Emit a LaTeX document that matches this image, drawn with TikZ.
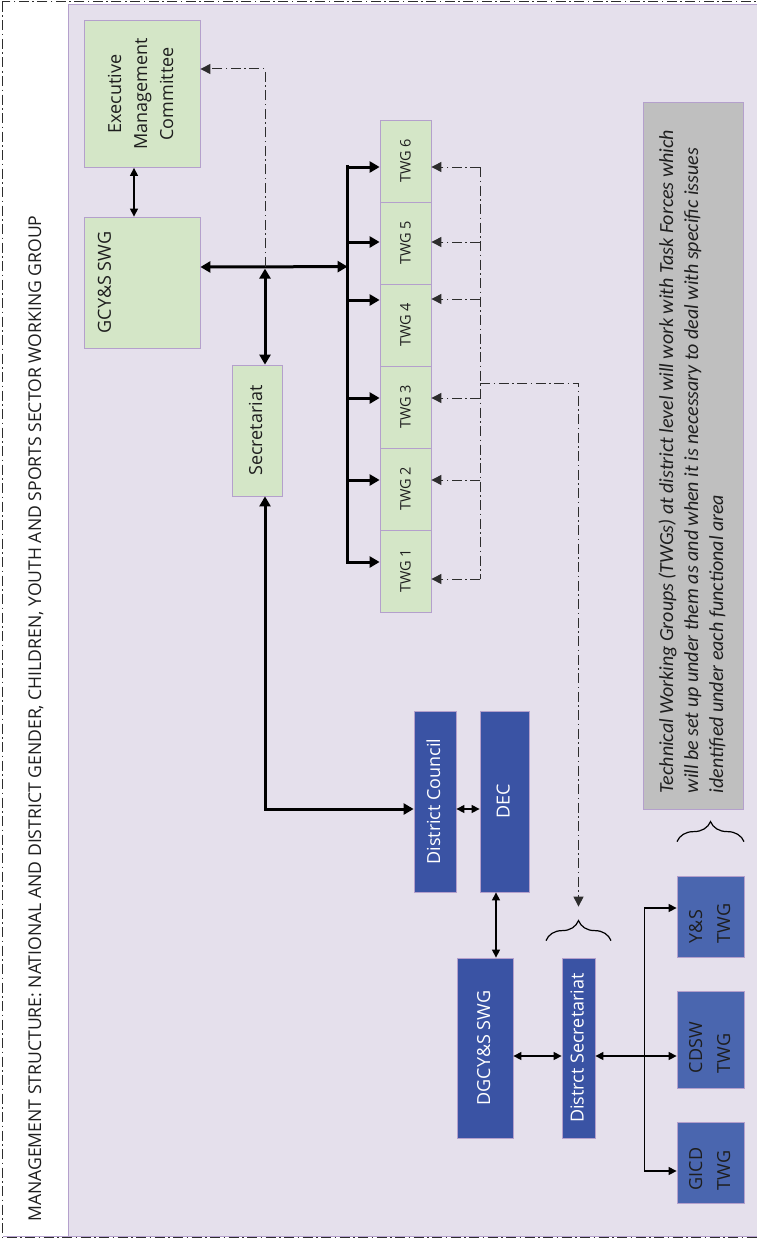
\documentclass[tikz,border=0pt]{standalone}
\usepackage{fontspec}
\setmainfont{Open Sans}
\newfontfamily\notefont{Carlito}
\usetikzlibrary{arrows.meta, positioning, calc, decorations.pathreplacing}
\definecolor{lavender}{RGB}{229,224,236}
\definecolor{leaf}{RGB}{212,230,199}
\definecolor{edge}{RGB}{180,160,204}
\definecolor{navy}{RGB}{58,83,164}
\definecolor{steel}{RGB}{74,102,175}
\definecolor{notegray}{RGB}{191,191,191}
\definecolor{dashgray}{RGB}{45,45,45}
\definecolor{ink}{RGB}{30,30,30}
\newcommand{\vt}[1]{\rotatebox{90}{\begin{tabular}{@{}c@{}}#1\end{tabular}}}
\newcommand{\vl}[1]{\rotatebox{90}{\begin{tabular}{@{}l@{}}#1\end{tabular}}}
\tikzset{
  box/.style={draw=edge, line width=0.8pt, inner sep=0pt, text=ink, font=\fontsize{18}{26}\selectfont},
  greenbox/.style={box, fill=leaf},
  bluebox/.style={box, fill=navy, text=white},
  lowbox/.style={box, fill=steel},
  twgbox/.style={greenbox, minimum width=51, minimum height=82, font=\fontsize{14.5}{17}\selectfont},
  lbl/.style={inner sep=0pt, text=ink, font=\fontsize{18}{26}\selectfont},
  thickarr/.style={line width=3pt, -{Triangle[length=10pt,width=11pt]}},
  thickboth/.style={line width=3pt, {Triangle[length=10pt,width=11pt]}-{Triangle[length=10pt,width=11pt]}},
  thinarr/.style={line width=1.3pt, -{Triangle[length=8pt,width=8pt]}},
  thinboth/.style={line width=1.3pt, {Triangle[length=8pt,width=8pt]}-{Triangle[length=8pt,width=8pt]}},
  feedback/.style={draw=dashgray, line width=1pt, dash pattern=on 10pt off 3.5pt on 1.5pt off 3.5pt},
  fbarr/.style={feedback, -{Triangle[length=10pt,width=10pt]}},
  brace/.style={decorate, decoration={brace, amplitude=20pt}, line width=1.2pt}
}

\begin{document}
\begin{tikzpicture}[x=1pt, y=-1pt]
  \useasboundingbox (0,0) rectangle (756,1239);
  % frame and title strip
  \fill[white] (0,0) rectangle (756,1239);
  \draw[edge, fill=lavender, line width=0.8pt] (68,4) rectangle (760,1236);
  \draw[edge, line width=0.8pt] (3,1236) -- (68,1236);
  \draw[feedback] (2,2) rectangle (760,1237);
  \node[lbl, font=\fontsize{17.6}{20}\selectfont, anchor=south] (title) at (36,1222) {\rotatebox{90}{MANAGEMENT STRUCTURE: NATIONAL AND DISTRICT GENDER, CHILDREN, YOUTH AND SPORTS SECTOR WORKING GROUP}};

  % national level
  \node[greenbox, minimum width=116, minimum height=147] (emc) at (142,94) {\vt{Executive\\Management\\Committee}};
  \node[greenbox, minimum width=116, minimum height=131] (swg) at (142,282.5) {};
  \node[lbl, right=14pt of swg.west] (swglbl) {\rotatebox{90}{GCY\&S SWG}};
  \node[greenbox, minimum width=50, minimum height=131] (sec) at (257,430.5) {\vt{Secretariat}};
  \foreach \i in {1,...,6}
    \node[twgbox] (twg\i) at (405.5,{653-82*\i}) {\rotatebox{90}{TWG \i}};

  % district level
  \node[bluebox, minimum width=42, minimum height=181] (dc) at (435,801.5) {\vt{District Council}};
  \node[bluebox, minimum width=49, minimum height=181] (dec) at (504.5,801.5) {\vt{DEC}};
  \node[bluebox, minimum width=56, minimum height=180] (dg) at (485,1048) {\vt{DGCY\&S SWG}};
  \node[bluebox, minimum width=33, minimum height=180] (ds) at (578.5,1048) {\vt{Distrct Secretariat}};
  \node[lowbox, minimum width=67, minimum height=81] (ys) at (710.5,916.5) {};
  \node[lowbox, minimum width=67, minimum height=97] (cdsw) at (710.5,1039.5) {};
  \node[lowbox, minimum width=67, minimum height=81] (gicd) at (710.5,1162.5) {};
  \node[lbl, font=\fontsize{18}{28}\selectfont, above=14pt of ys.south] (yslbl) {\vl{Y\&S\\TWG}};
  \node[lbl, font=\fontsize{18}{28}\selectfont, above=15pt of cdsw.south] (cdswlbl) {\vl{CDSW\\TWG}};
  \node[lbl, font=\fontsize{18}{28}\selectfont, above=13pt of gicd.south] (gicdlbl) {\vl{GICD\\TWG}};

  % note
  \node[box, fill=notegray, minimum width=100, minimum height=707] (note) at (693,455.5) {};
  \node[lbl, font=\notefont\itshape\fontsize{20}{25}\selectfont, above=16pt of note.south] (notetxt)
    {\vl{Technical Working Groups (TWGs) at district level will work with Task Forces which\\will be set up under them as and when it is necessary to deal with specific issues\\identified under each functional area}};
  \draw[brace] ($(ds.north)+(-32.5,-17)$) -- ($(ds.north)+(32.5,-17)$);
  \draw[brace] ($(ys.north)+(-33.5,-34)$) -- ($(ys.north)+(33.5,-34)$);

  % national connectors
  \coordinate (hub) at ($(sec.north)+(8,-98)$);
  \coordinate (bustop) at ($(twg6.west)+(-32,6)$);
  \coordinate (busbot) at ($(twg1.west)+(-32,-9)$);
  \draw[line width=3.5pt, line cap=rect] (bustop) -- (busbot);
  \foreach \i/\d in {1/-9,2/-9,3/-9,4/-25,5/-1,6/6}
    \draw[thickarr] ($(twg\i.west)+(-32,\d)$) -- ($(twg\i.west)+(0,\d)$);
  \draw[thickboth] ($(swg.east)+(0,-15.5)$) -- (hub -| bustop);
  \draw[thickboth] ($(hub)+(0,2)$) -- (hub |- sec.north);
  \draw[thickboth] ($(sec.south)+(8,0)$) |- ($(dc.west)+(0,7.5)$);
  \draw[thinboth] ($(emc.south)+(-8,0)$) -- ($(swg.north)+(-8,0)$);
  \draw[fbarr] (hub) |- ($(emc.east)+(0,-25)$);

  % feedback from the TWGs
  \coordinate (fbtop) at ($(twg6.east)+(49,6)$);
  \coordinate (fbbot) at ($(twg1.east)+(49,8)$);
  \coordinate (fbmid) at ($(twg3.east)+(49,-24)$);
  \draw[feedback] (fbtop) -- (fbbot);
  \foreach \i/\d in {1/8,2/-9,3/-9,4/-26,5/-1,6/6}
    \draw[fbarr] ($(twg\i.east)+(49,\d)$) -- ($(twg\i.east)+(0,\d)$);
  \draw[fbarr] (fbmid) -| ($(ds.north)+(0,-51)$);

  % district connectors
  \coordinate (decdown) at ($(dec.south)+(-8.5,0)$);
  \coordinate (fork) at ($(ds.east)+(49,8)$);
  \draw[thinboth] ($(dc.east)+(0,7.5)$) -- ($(dec.west)+(0,7.5)$);
  \draw[thinboth] (decdown) -- (decdown |- dg.north);
  \draw[thinboth] ($(dg.east)+(0,8)$) -- ($(ds.west)+(0,8)$);
  \draw[thinboth] ($(ds.east)+(0,8)$) -- ($(cdsw.west)+(0,16.5)$);
  \draw[thinarr] (fork) |- ($(ys.west)+(0,-8.5)$);
  \draw[thinarr] (fork) |- ($(gicd.west)+(0,8.5)$);
\end{tikzpicture}
\end{document}
